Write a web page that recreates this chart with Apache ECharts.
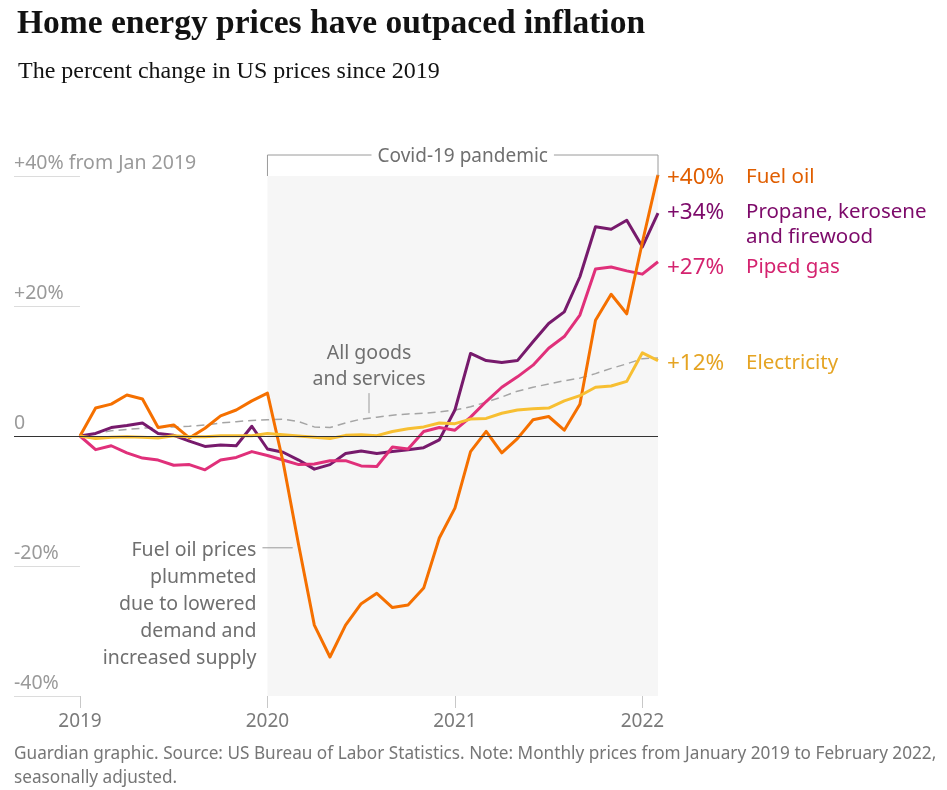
<!DOCTYPE html>
<html>
<head>
<meta charset="utf-8" />
<title>Home energy prices have outpaced inflation</title>
<script src="https://cdn.jsdelivr.net/npm/echarts@6/dist/echarts.min.js"></script>
<style>
  html, body { margin: 0; padding: 0; background: #fff; }
  #chart { width: 947px; height: 790px; }
</style>
</head>
<body>
<div id="chart"></div>
<script>
  // monthly categories, Jan 2019 .. Feb 2022
  const months = [];
  for (let y = 2019; y <= 2022; y++) {
    for (let m = 1; m <= 12; m++) {
      if (y === 2022 && m > 2) break;
      months.push(y + '-' + String(m).padStart(2, '0'));
    }
  }
  const yearTicks = ['2019-01', '2020-01', '2021-01', '2022-01'];
  const yearLabels = ['2019', '2020', '2021', '2022'];
  const yTicks = [-40, -20, 0, 20, 40];
  const yTickLabels = ['-40%', '-20%', '0', '+20%', '+40% from Jan 2019'];

  // percent change since Jan 2019
  const fuelOil = [0, 4.3, 4.9, 6.3, 5.7, 1.3, 1.7, -0.3, 1.2, 3.1, 4.0, 5.4,
    6.6, -4.0, -16.8, -29.1, -34.0, -29.1, -25.8, -24.2, -26.4, -26.0, -23.4, -15.7,
    -11.1, -2.4, 0.7, -2.6, -0.4, 2.5, 3.0, 0.9, 4.9, 17.8, 21.8, 18.8, 29.8, 40.2];
  const propane = [0, 0.4, 1.3, 1.6, 2.0, 0.4, 0.1, -0.8, -1.6, -1.4, -1.5, 1.5,
    -2.0, -2.5, -3.7, -5.1, -4.4, -2.7, -2.3, -2.7, -2.4, -2.1, -1.8, -0.6,
    4.0, 12.7, 11.6, 11.3, 11.6, 14.5, 17.3, 19.1, 24.5, 32.2, 31.8, 33.2, 29.1, 34.3];
  const pipedGas = [0, -2.1, -1.5, -2.6, -3.4, -3.7, -4.5, -4.4, -5.2, -3.7, -3.3, -2.4,
    -3.0, -3.7, -4.4, -4.3, -3.8, -3.8, -4.6, -4.7, -1.7, -2.0, 0.7, 1.3,
    0.9, 2.9, 5.3, 7.5, 9.1, 10.9, 13.5, 15.3, 18.6, 25.7, 26.0, 25.4, 24.9, 26.8];
  const electricity = [0, -0.4, -0.2, -0.1, -0.2, -0.3, 0.05, -0.1, -0.1, 0.05, 0.05, 0.05,
    0.4, 0.2, 0, -0.2, -0.4, 0.1, 0.2, 0.05, 0.7, 1.1, 1.4, 2.0,
    1.9, 2.6, 2.7, 3.5, 4.0, 4.2, 4.3, 5.4, 6.2, 7.5, 7.7, 8.4, 12.8, 11.6];
  const allItems = [0, 0.4, 0.8, 1.0, 1.2, 1.3, 1.4, 1.5, 1.7, 2.0, 2.2, 2.4,
    2.5, 2.6, 2.2, 1.4, 1.3, 2.0, 2.6, 2.9, 3.2, 3.4, 3.5, 3.7,
    4.0, 4.5, 5.2, 6.0, 6.9, 7.5, 8.0, 8.5, 8.9, 9.6, 10.4, 11.1, 11.9, 12.0];

  const seriesNames = ['Fuel oil', 'Propane, kerosene\nand firewood', 'Piped gas', 'Electricity'];
  const lineColors = ['#f57000', '#771a6c', '#e0307a', '#f7bf32'];
  const textColors = ['#e05e00', '#7d0a6a', '#d4236f', '#e5a423'];
  const seriesData = [fuelOil, propane, pipedGas, electricity];
  const pandemicStart = '2020-01';

  const sans = '"Noto Sans", "Open Sans", sans-serif';

  function lineSeries(name, data, color) {
    return {
      name: name, type: 'line', data: data, symbol: 'none', silent: true,
      lineStyle: { width: 3, color: color, join: 'round' },
      emphasis: { disabled: true }, animation: false, z: 3
    };
  }

  const option = {
    animation: false,
    title: [
      { text: 'Home energy prices have outpaced inflation', left: 12, top: 2,
        textStyle: { fontFamily: '"Liberation Serif", serif', fontWeight: 'bold', fontSize: 33.5, color: '#121212' } },
      { text: 'The percent change in US prices since 2019', left: 13, top: 55,
        textStyle: { fontFamily: '"Liberation Serif", serif', fontWeight: 'normal', fontSize: 24, color: '#121212' } }
    ],
    grid: [
      { left: 80, right: 289, top: 176, bottom: 94, outerBoundsMode: 'none', containLabel: false },
      { left: 14, width: 66, top: 176, bottom: 94, outerBoundsMode: 'none', containLabel: false }
    ],
    xAxis: [
      {
        type: 'category', gridIndex: 0, data: months, boundaryGap: false,
        axisLine: { show: false, onZero: false },
        axisTick: { show: true, length: 12, lineStyle: { color: '#c8c8c8' },
          interval: (i, v) => yearTicks.includes(v) },
        axisLabel: { interval: (i, v) => yearTicks.includes(v), margin: 16,
          formatter: v => yearLabels[yearTicks.indexOf(v)],
          fontFamily: sans, fontSize: 19, color: '#7a7a7a' },
        splitLine: { show: false }
      },
      { type: 'value', gridIndex: 1, min: 0, max: 1, show: false }
    ],
    yAxis: [
      { type: 'value', gridIndex: 0, min: -40, max: 40, interval: 20,
        axisLine: { show: false }, axisTick: { show: false }, axisLabel: { show: false },
        splitLine: { show: false } },
      { type: 'value', gridIndex: 1, min: -40, max: 40, interval: 20,
        axisLine: { show: false }, axisTick: { show: false },
        axisLabel: { inside: true, align: 'left', verticalAlign: 'bottom', margin: 0,
          padding: [0, 0, 3, 0], fontFamily: sans, fontSize: 19.5, color: '#9a9a9a',
          formatter: v => yTickLabels[yTicks.indexOf(v)] },
        splitLine: { show: true, lineStyle: { color: '#dcdcdc', width: 1 } } }
    ],
    series: [
      { name: 'pandemic', type: 'line', data: [null], symbol: 'none', silent: true, z: -2,
        markArea: { silent: true, itemStyle: { color: '#f6f6f6' },
          data: [[{ xAxis: pandemicStart, yAxis: -40 }, { xAxis: months[months.length - 1], yAxis: 40 }]] } },
      { name: 'zero', type: 'line', data: [null], symbol: 'none', silent: true, z: -1,
        markLine: { silent: true, symbol: 'none', label: { show: false },
          lineStyle: { color: '#333', width: 1, type: 'solid' }, data: [{ yAxis: 0 }] } },
      { name: 'zeroMargin', type: 'line', xAxisIndex: 1, yAxisIndex: 1, data: [null],
        symbol: 'none', silent: true, z: 3,
        markLine: { silent: true, symbol: 'none', label: { show: false },
          lineStyle: { color: '#333', width: 1, type: 'solid' }, data: [{ yAxis: 0 }] } },
      { name: 'All goods and services', type: 'line', data: allItems, symbol: 'none', silent: true,
        lineStyle: { width: 1.5, color: '#a5a5a5', type: [8, 5] }, z: 2 },
      lineSeries(seriesNames[1], propane, lineColors[1]),
      lineSeries(seriesNames[2], pipedGas, lineColors[2]),
      lineSeries(seriesNames[0], fuelOil, lineColors[0]),
      lineSeries(seriesNames[3], electricity, lineColors[3])
    ]
  };

  const chart = echarts.init(document.getElementById('chart'));
  chart.setOption(option);

  function px(i, v) {
    return chart.convertToPixel({ xAxisIndex: 0, yAxisIndex: 0 }, [i, v]);
  }

  const lastIdx = months.length - 1;
  const startIdx = months.indexOf(pandemicStart);
  const yTop = px(0, 40)[1];
  const grey = '#6f6f6f';
  const g = [];

  // Covid-19 bracket
  const xa = px(startIdx, 40)[0], xb = px(lastIdx, 40)[0], yb = yTop - 21;
  g.push({ type: 'polyline', silent: true, z: 100, shape: { points: [[xa, yTop], [xa, yb], [xb, yb], [xb, yTop]] },
    style: { stroke: '#9a9a9a', lineWidth: 1, fill: null } });
  g.push({ type: 'text', silent: true, z: 101, x: (xa + xb) / 2, y: yb + 2,
    style: { text: 'Covid-19 pandemic', textAlign: 'center', textVerticalAlign: 'middle',
      fontFamily: sans, fontSize: 19, fill: grey, backgroundColor: '#fff', padding: [2, 6] } });

  // All goods and services
  const pg18 = px(18, allItems[18]);
  const pg19 = px(19, allItems[19]);
  const xg = (pg18[0] + pg19[0]) / 2;
  const yg = (pg18[1] + pg19[1]) / 2;
  g.push({ type: 'line', silent: true, z: 100, shape: { x1: xg, y1: yg - 25, x2: xg, y2: yg - 5 },
    style: { stroke: '#9a9a9a', lineWidth: 1 } });
  g.push({ type: 'text', silent: true, z: 100, x: xg, y: yg - 26,
    style: { text: 'All goods\nand services', textAlign: 'center', textVerticalAlign: 'bottom',
      lineHeight: 26, fontFamily: sans, fontSize: 19.5, fill: grey } });

  // Fuel oil note
  const yf = px(14, -17.2)[1];
  const xf1 = px(startIdx, 0)[0] - 5, xf2 = px(14, 0)[0] - 6;
  g.push({ type: 'line', silent: true, z: 100, shape: { x1: xf1, y1: yf, x2: xf2, y2: yf },
    style: { stroke: '#9a9a9a', lineWidth: 1 } });
  g.push({ type: 'text', silent: true, z: 100, x: xf1 - 6, y: yf - 11,
    style: { text: 'Fuel oil prices\nplummeted\ndue to lowered\ndemand and\nincreased supply',
      textAlign: 'right', textVerticalAlign: 'top', lineHeight: 27,
      fontFamily: sans, fontSize: 19.5, fill: grey } });

  // end labels
  const nudge = [3, 0, 6, 3];
  seriesData.forEach((d, k) => {
    const v = d[lastIdx];
    const p = px(lastIdx, v);
    const y = p[1] + nudge[k];
    const valTxt = (v >= 0 ? '+' : '') + Math.round(v) + '%';
    g.push({ type: 'text', silent: true, z: 100, x: p[0] + 9, y: y,
      style: { text: valTxt, textAlign: 'left', textVerticalAlign: 'middle',
        fontFamily: sans, fontSize: 22.5, fill: textColors[k] } });
    g.push({ type: 'text', silent: true, z: 100, x: p[0] + 88, y: y - 13,
      style: { text: seriesNames[k], textAlign: 'left', textVerticalAlign: 'top', lineHeight: 25,
        fontFamily: sans, fontSize: 20.5, fill: textColors[k] } });
  });

  // footer
  g.push({ type: 'text', silent: true, z: 100, x: 14, y: 742,
    style: { text: 'Guardian graphic. Source: US Bureau of Labor Statistics. Note: Monthly prices from January 2019 to February 2022,\nseasonally adjusted.',
      textAlign: 'left', textVerticalAlign: 'top', lineHeight: 24,
      fontFamily: sans, fontSize: 17.2, fill: '#767676' } });

  chart.setOption({ graphic: g });
</script>
</body>
</html>
